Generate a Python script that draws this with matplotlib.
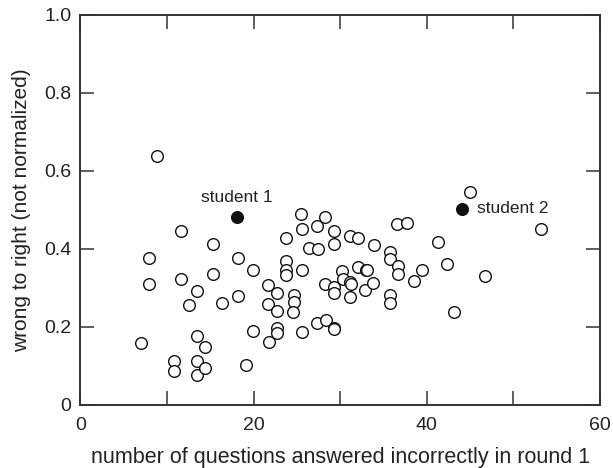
import matplotlib
matplotlib.use("Agg")
import matplotlib.pyplot as plt

plt.rcParams['font.family'] = ['Liberation Sans', 'DejaVu Sans']

# questions answered incorrectly in round 1 vs. wrong-to-right fraction
wrong_round1 = [8.8, 7.0, 7.9, 7.9, 11.6, 11.6, 10.8, 10.8, 12.5, 13.5,
                13.5, 13.5, 13.5, 14.4, 14.4, 15.35, 15.35, 16.3, 18.2, 18.2,
                19.1, 19.9, 19.9, 21.7, 21.7, 21.8, 22.7, 22.7, 22.7, 22.7,
                23.7, 23.7, 23.7, 23.7, 24.65, 24.65, 24.5, 25.5, 25.55, 25.55,
                25.55, 26.4, 27.35, 27.45, 27.3, 28.25, 28.25, 28.35, 29.25, 29.25,
                29.25, 29.25, 29.25, 29.3, 30.2, 30.3, 31.15, 31.15, 31.2, 31.15,
                32.0, 32.0, 32.95, 33.1, 32.85, 33.8, 33.9, 35.7, 35.7, 35.7,
                35.7, 36.6, 37.7, 36.7, 36.7, 38.5, 39.4, 41.3, 42.3, 43.1,
                45.0, 46.75, 53.2]
wrong_to_right = [0.637, 0.158, 0.377, 0.311, 0.446, 0.323, 0.113, 0.086, 0.255, 0.293,
                  0.177, 0.113, 0.076, 0.148, 0.095, 0.412, 0.335, 0.262, 0.377, 0.280,
                  0.103, 0.347, 0.189, 0.307, 0.259, 0.162, 0.288, 0.241, 0.198, 0.183,
                  0.429, 0.369, 0.347, 0.334, 0.281, 0.264, 0.238, 0.490, 0.450, 0.346,
                  0.188, 0.401, 0.458, 0.400, 0.211, 0.482, 0.310, 0.218, 0.445, 0.412,
                  0.301, 0.286, 0.197, 0.195, 0.342, 0.323, 0.434, 0.316, 0.310, 0.277,
                  0.427, 0.354, 0.347, 0.346, 0.294, 0.313, 0.410, 0.392, 0.375, 0.281,
                  0.262, 0.465, 0.467, 0.356, 0.335, 0.318, 0.346, 0.417, 0.361, 0.237,
                  0.545, 0.330, 0.451]

students = ['student 1', 'student 2']
student_x = [18.1, 44.0]
student_y = [0.483, 0.503]

fig = plt.figure(figsize=(6.13, 4.68), dpi=100)
ax = fig.add_axes([0.131, 0.135, 0.848, 0.833])

ax.plot(wrong_round1, wrong_to_right, 'o', ms=8.4, mfc='white', mec='#111111', mew=1.0)
ax.plot(student_x, student_y, 'o', ms=8.4, mfc='#111111', mec='#111111', mew=1.0)

ax.annotate(students[0], (student_x[0], student_y[0]), xytext=(0, 8),
            textcoords='offset points', ha='center', va='bottom', fontsize=12.5, color='#222222')
ax.annotate(students[1], (student_x[1], student_y[1]), xytext=(11, 0),
            textcoords='offset points', ha='left', va='center', fontsize=12.5, color='#222222')

ax.set_xlim(0, 60)
ax.set_ylim(0, 1.0)
ax.set_xticks([0, 20, 40, 60])
ax.set_yticks([0, 0.2, 0.4, 0.6, 0.8, 1.0])
ax.set_yticklabels(['0', '0.2', '0.4', '0.6', '0.8', '1.0'])
ax.set_xticks([10, 30, 50], minor=True)
ax.tick_params(which='both', direction='in', top=True, right=True,
               length=10, width=1.1, color='#333333', labelsize=14, labelcolor='#222222')
ax.tick_params(axis='x', pad=9)
ax.tick_params(axis='y', pad=6.5)

for s in ax.spines.values():
    s.set_linewidth(1.4)
    s.set_color('#333333')

ax.set_xlabel('number of questions answered incorrectly in round 1', fontsize=15.5,
              labelpad=9, color='#222222')
ax.set_ylabel('wrong to right (not normalized)', fontsize=15, labelpad=9, color='#222222')

fig.savefig('out.png', dpi=100)
